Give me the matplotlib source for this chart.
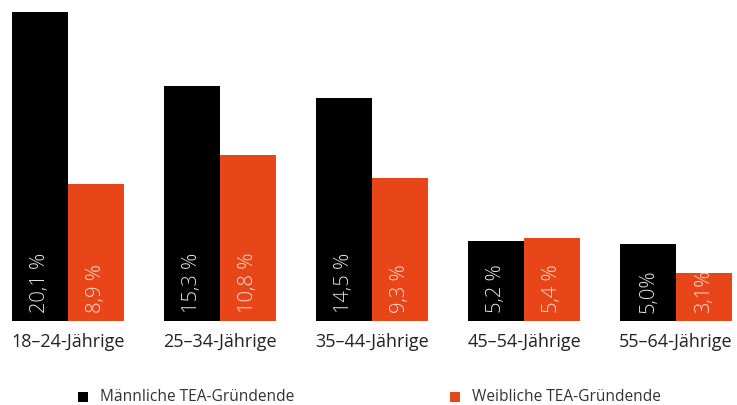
import matplotlib
matplotlib.use("Agg")
import matplotlib.pyplot as plt
import numpy as np
from matplotlib.patches import Rectangle

categories = ["18–24-Jährige", "25–34-Jährige", "35–44-Jährige", "45–54-Jährige", "55–64-Jährige"]
maenner = [20.1, 15.3, 14.5, 5.2, 5.0]
frauen = [8.9, 10.8, 9.3, 5.4, 3.1]
labels_m = ["20,1 %", "15,3 %", "14,5 %", "5,2 %", "5,0%"]
labels_f = ["8,9 %", "10,8 %", "9,3 %", "5,4 %", "3,1%"]
series_names = ["Männliche TEA-Gründende", "Weibliche TEA-Gründende"]

BLACK = "#000000"
ORANGE = "#E84619"
FONT = ["Open Sans", "DejaVu Sans"]

W, H = 737, 405
fig = plt.figure(figsize=(W / 100, H / 100), dpi=100)
ax = fig.add_axes([12 / W, (H - 321) / H, 720 / W, 309 / H])

w = 0.368
x = np.arange(len(categories))
ax.bar(x - w / 2, maenner, width=w, color=BLACK, linewidth=0)
ax.bar(x + w / 2, frauen, width=w, color=ORANGE, linewidth=0)
ax.set_xlim(-w, len(categories) - 1 + w)
ax.set_ylim(0, 20.1)
ax.axis("off")

off = 0.5
for i in range(len(categories)):
    ax.text(x[i] - w / 2, off, labels_m[i], rotation=90, ha="center", va="bottom",
            color="#e8e8e8", fontsize=14.5, family=FONT, fontweight="light")
    ax.text(x[i] + w / 2, off, labels_f[i], rotation=90, ha="center", va="bottom",
            color="#f8e0d6", fontsize=14.5, family=FONT, fontweight="light")
    ax.text(x[i], -1.35, categories[i], ha="center", va="center", color="#222222",
            fontsize=13, family=FONT)

# legend
for px, col, name in [(78, BLACK, series_names[0]), (450, ORANGE, series_names[1])]:
    fig.patches.append(Rectangle((px / W, (H - 402) / H), 10 / W, 10 / H,
                                 transform=fig.transFigure, color=col, linewidth=0))
    fig.text((px + 22) / W, (H - 397) / H, name, ha="left", va="center",
             color="#333333", fontsize=11.2, family=FONT)

fig.savefig("out.png", dpi=100)
